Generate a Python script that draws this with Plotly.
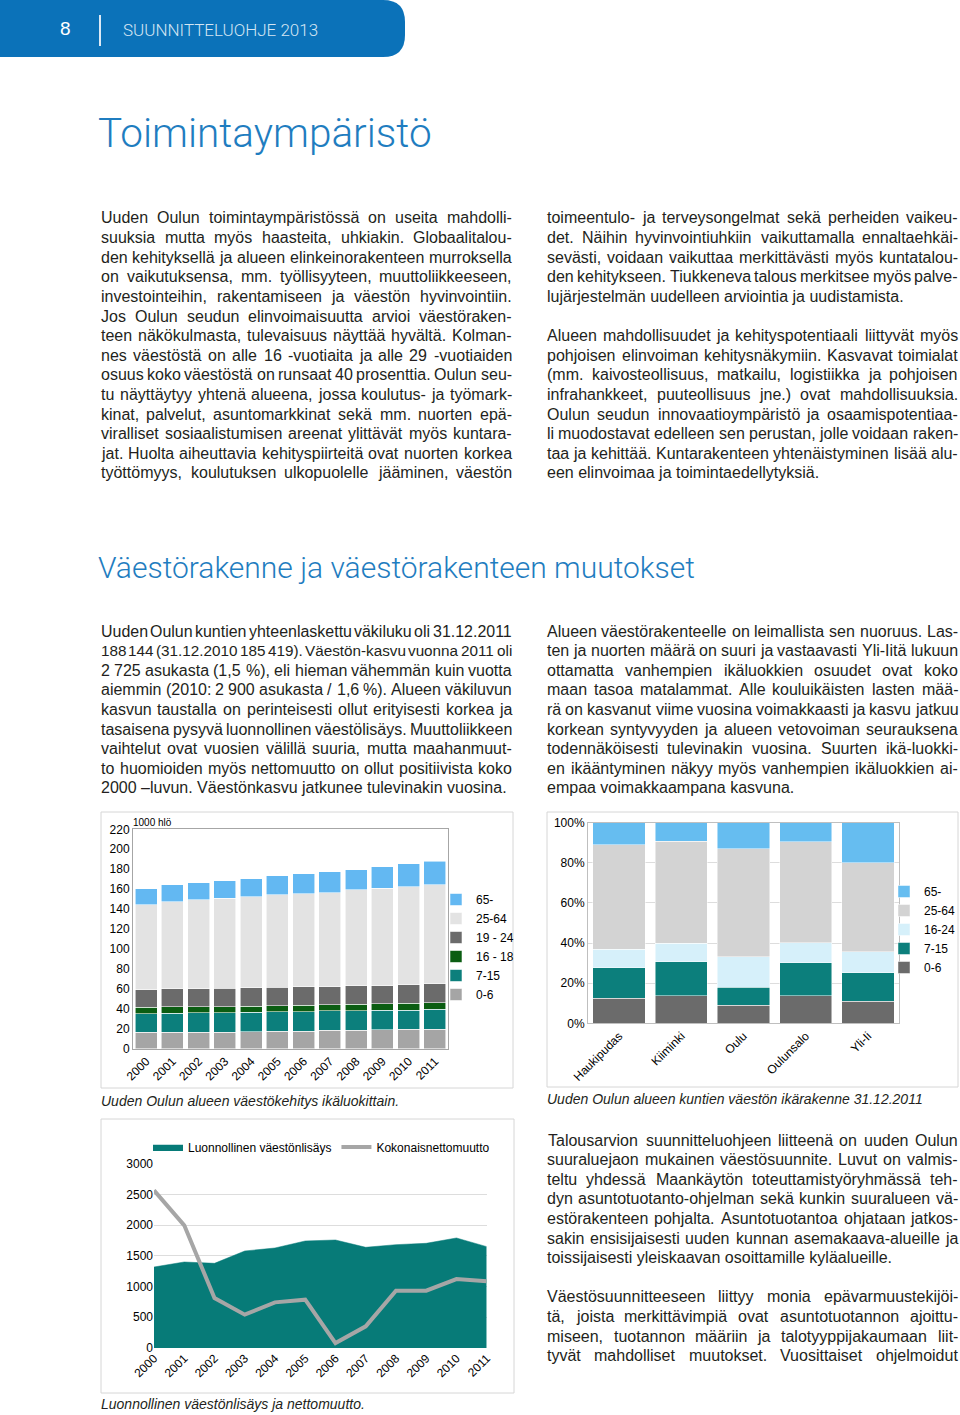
import plotly.graph_objects as go

# ---------------------------------------------------------------------
# Data
# ---------------------------------------------------------------------
years = ["2000", "2001", "2002", "2003", "2004", "2005",
         "2006", "2007", "2008", "2009", "2010", "2011"]

# Chart 1: population by age group, 1000 persons
age_groups = ["0-6", "7-15", "16 - 18", "19 - 24", "25-64", "65-"]
pop_0_6 = [16.7, 16.7, 16.7, 16.7, 17.1, 17.7, 17.7, 18.4, 18.7, 19.1, 19.4, 19.7]
pop_7_15 = [18.1, 18.8, 19.1, 19.4, 19.4, 19.1, 19.4, 19.4, 19.4, 19.4, 19.4, 19.8]
pop_16_18 = [6.7, 6.6, 6.3, 6.0, 6.3, 6.3, 6.7, 6.3, 6.7, 6.7, 7.0, 6.7]
pop_19_24 = [17.4, 17.8, 17.8, 18.4, 18.4, 18.4, 18.1, 18.1, 18.1, 18.0, 18.4, 18.7]
pop_25_64 = [85.6, 87.3, 89.3, 90.3, 91.3, 93.0, 93.6, 94.3, 96.3, 97.7, 98.0, 99.6]
pop_65 = [16.0, 17.0, 17.0, 17.8, 18.1, 18.7, 19.8, 20.8, 20.4, 21.4, 23.1, 23.6]
y1_ticks = [0, 20, 40, 60, 80, 100, 120, 140, 160, 180, 200, 220]

# Chart 2: age structure by municipality 31.12.2011, %
municipalities = ["Haukipudas", "Kiiminki", "Oulu", "Oulunsalo", "Yli-Ii"]
share_groups = ["0-6", "7-15", "16-24", "25-64", "65-"]
share_0_6 = [12.5, 13.8, 9.1, 13.8, 11.0]
share_7_15 = [15.2, 16.9, 8.8, 16.3, 14.2]
share_16_24 = [9.2, 9.2, 15.2, 10.1, 10.5]
share_25_64 = [52.0, 50.8, 53.8, 50.2, 44.4]
share_65 = [11.1, 9.3, 13.1, 9.6, 19.9]
y2_ticks = [0, 20, 40, 60, 80, 100]
y2_labels = ["0%", "20%", "40%", "60%", "80%", "100%"]

# Chart 3: natural increase and net migration
year_nums = [2000, 2001, 2002, 2003, 2004, 2005, 2006, 2007, 2008, 2009, 2010, 2011]
natural_increase = [1318, 1400, 1378, 1579, 1628, 1742, 1758, 1639, 1682, 1704, 1791, 1650]
net_migration = [2566, 1997, 814, 543, 743, 787, 81, 353, 933, 933, 1123, 1085]
y3_ticks = [0, 500, 1000, 1500, 2000, 2500, 3000]

# Page text
col1_top = [
    "Uuden Oulun toimintaympäristössä on useita mahdolli-",
    "suuksia mutta myös haasteita, uhkiakin. Globaalitalou-",
    "den kehityksellä ja alueen elinkeinorakenteen murroksella",
    "on vaikutuksensa, mm. työllisyyteen, muuttoliikkeeseen,",
    "investointeihin, rakentamiseen ja väestön hyvinvointiin.",
    "Jos Oulun seudun elinvoimaisuutta arvioi väestöraken-",
    "teen näkökulmasta, tulevaisuus näyttää hyvältä. Kolman-",
    "nes väestöstä on alle 16 -vuotiaita ja alle 29 -vuotiaiden",
    "osuus koko väestöstä on runsaat 40 prosenttia. Oulun seu-",
    "tu näyttäytyy yhtenä alueena, jossa koulutus- ja työmark-",
    "kinat, palvelut, asuntomarkkinat sekä mm. nuorten epä-",
    "viralliset sosiaalistumisen areenat ylittävät myös kuntara-",
    "jat. Huolta aiheuttavia kehityspiirteitä ovat nuorten korkea",
    "työttömyys, koulutuksen ulkopuolelle jääminen, väestön",
]
col2_top = [
    "toimeentulo- ja terveysongelmat sekä perheiden vaikeu-",
    "det. Näihin hyvinvointiuhkiin vaikuttamalla ennaltaehkäi-",
    "sevästi, voidaan vaikuttaa merkittävästi myös kuntatalou-",
    "den kehitykseen. Tiukkeneva talous merkitsee myös palve-",
    "lujärjestelmän uudelleen arviointia ja uudistamista.",
    "",
    "Alueen mahdollisuudet ja kehityspotentiaali liittyvät myös",
    "pohjoisen elinvoiman kehitysnäkymiin. Kasvavat toimialat",
    "(mm. kaivosteollisuus, matkailu, logistiikka ja pohjoisen",
    "infrahankkeet, puuteollisuus jne.) ovat mahdollisuuksia.",
    "Oulun seudun innovaatioympäristö ja osaamispotentiaa-",
    "li muodostavat edelleen sen perustan, jolle voidaan raken-",
    "taa ja kehittää. Kuntarakenteen yhtenäistyminen lisää alu-",
    "een elinvoimaa ja toimintaedellytyksiä.",
]
col1_mid = [
    "Uuden Oulun kuntien yhteenlaskettu väkiluku oli 31.12.2011",
    "188 144 (31.12.2010 185 419). Väestön-kasvu vuonna 2011 oli",
    "2 725 asukasta (1,5 %), eli hieman vähemmän kuin vuotta",
    "aiemmin (2010: 2 900 asukasta / 1,6 %). Alueen väkiluvun",
    "kasvun taustalla on perinteisesti ollut erityisesti korkea ja",
    "tasaisena pysyvä luonnollinen väestölisäys. Muuttoliikkeen",
    "vaihtelut ovat vuosien välillä suuria, mutta maahanmuut-",
    "to huomioiden myös nettomuutto on ollut positiivista koko",
    "2000 –luvun. Väestönkasvu jatkunee tulevinakin vuosina.",
]
col2_mid = [
    "Alueen väestörakenteelle on leimallista sen nuoruus. Las-",
    "ten ja nuorten määrä on suuri ja vastaavasti Yli-Iitä lukuun",
    "ottamatta vanhempien ikäluokkien osuudet ovat koko",
    "maan tasoa matalammat. Alle kouluikäisten lasten mää-",
    "rä on kasvanut viime vuosina voimakkaasti ja kasvu jatkuu",
    "korkean syntyvyyden ja alueen vetovoiman seurauksena",
    "todennäköisesti tulevinakin vuosina. Suurten ikä-luokki-",
    "en ikääntyminen näkyy myös vanhempien ikäluokkien ai-",
    "empaa voimakkaampana kasvuna.",
]
col2_bottom = [
    "Talousarvion suunnitteluohjeen liitteenä on uuden Oulun",
    "suuraluejaon mukainen väestösuunnite. Luvut on valmis-",
    "teltu yhdessä Maankäytön toteuttamistyöryhmässä teh-",
    "dyn asuntotuotanto-ohjelman sekä kunkin suuralueen vä-",
    "estörakenteen pohjalta. Asuntotuotantoa ohjataan jatkos-",
    "sakin ensisijaisesti uuden kunnan asemakaava-alueille ja",
    "toissijaisesti yleiskaavan osoittamille kyläalueille.",
    "",
    "Väestösuunnitteeseen liittyy monia epävarmuustekijöi-",
    "tä, joista merkittävimpiä ovat asuntotuotannon ajoittu-",
    "miseen, tuotannon määriin ja talotyyppijakaumaan liit-",
    "tyvät mahdolliset muutokset. Vuosittaiset ohjelmoidut",
]

# ---------------------------------------------------------------------
# Helpers (page pixels -> paper coords)
# ---------------------------------------------------------------------
W, H = 960, 1415
BODY = "Liberation Sans, Arial, sans-serif"
LIGHT = "Roboto, Lato, sans-serif"
TEXT = "#231f20"
BLUE = "#0b72b9"
BODY_SIZE = 16
MIN_GAP = 2.2
LINE_STEP = 19.6

# Arial / Liberation Sans advance widths (1/1000 em), used to justify lines
_W = {" ": 278, ".": 278, ",": 278, ":": 278, "/": 278, "-": 333, "(": 333,
      ")": 333, "%": 889, "–": 556, "I": 278, "J": 500, "L": 556, "F": 611,
      "T": 611, "Z": 611, "C": 722, "D": 722, "H": 722, "N": 722, "R": 722,
      "U": 722, "G": 778, "O": 778, "Q": 778, "Ö": 778, "M": 833, "W": 944,
      "f": 278, "t": 278, "i": 222, "j": 222, "l": 222, "r": 333, "c": 500,
      "k": 500, "s": 500, "v": 500, "x": 500, "y": 500, "z": 500, "m": 833,
      "w": 722}
for _c in "ABEKPSVXYÄ":
    _W[_c] = 667


def text_em(s):
    return sum(_W.get(c, 556) for c in s) / 1000


def px(x):
    return x / W


def py(y):
    return 1 - y / H


def dom_x(a, b):
    return [px(a), px(b)]


def dom_y(top, bottom):
    return [py(bottom), py(top)]


annotations = []


def add_text(x, y, text, size=BODY_SIZE, color=TEXT, family=BODY,
             italic=False, weight=None, xanchor="left"):
    font = dict(family=family, size=size, color=color)
    if italic:
        font["style"] = "italic"
    if weight:
        font["weight"] = weight
    annotations.append(dict(
        x=px(x), y=py(y), xref="paper", yref="paper", text=text,
        showarrow=False, xanchor=xanchor, yanchor="middle", font=font,
        borderpad=0, borderwidth=0,
    ))


def add_block(x0, x1, y0, lines, continues=False):
    """Justified text block: last line of each paragraph stays ragged."""
    for i, line in enumerate(lines):
        if not line:
            continue
        y = y0 + i * LINE_STEP
        is_last = i == len(lines) - 1
        ragged = (is_last and not continues) or (not is_last and not lines[i + 1])
        words = line.split(" ")
        if ragged or len(words) < 2:
            add_text(x0, y, line)
            continue
        n_gaps = len(words) - 1
        em = sum(text_em(w) for w in words)
        size = min(BODY_SIZE, (x1 - x0 - n_gaps * MIN_GAP) / em)
        widths = [text_em(w) * size for w in words]
        gap = (x1 - x0 - sum(widths)) / n_gaps
        x = x0
        for w, ww in zip(words, widths):
            add_text(x + ww / 2, y, w, size=size, xanchor="center")
            x += ww + gap


fig = go.Figure()

# ---------------------------------------------------------------------
# Chart 1: stacked bars by age group
# ---------------------------------------------------------------------
c1_series = [pop_0_6, pop_7_15, pop_16_18, pop_19_24, pop_25_64, pop_65]
c1_colors = ["#a5a5a5", "#0c7f7c", "#0b5d12", "#6b6b6b", "#e3e3e3", "#63b8f2"]
for name, vals, col in zip(age_groups, c1_series, c1_colors):
    fig.add_trace(go.Bar(
        x=years, y=vals, name=name, marker_color=col,
        marker_line=dict(color="rgba(255,255,255,0.7)", width=0.8),
        xaxis="x", yaxis="y", legend="legend",
    ))

# ---------------------------------------------------------------------
# Chart 2: 100% stacked bars by municipality
# ---------------------------------------------------------------------
c2_series = [share_0_6, share_7_15, share_16_24, share_25_64, share_65]
c2_colors = ["#6b6b6b", "#0c7f7c", "#d6f0fa", "#d3d3d3", "#66bdf0"]
for name, vals, col in zip(share_groups, c2_series, c2_colors):
    fig.add_trace(go.Bar(
        x=municipalities, y=vals, name=name, marker_color=col,
        marker_line=dict(color="rgba(255,255,255,0.6)", width=0.8),
        xaxis="x2", yaxis="y2", legend="legend2",
    ))

# ---------------------------------------------------------------------
# Chart 3: area + line
# ---------------------------------------------------------------------
fig.add_trace(go.Scatter(
    x=year_nums, y=natural_increase, name="Luonnollinen väestönlisäys",
    mode="lines", fill="tozeroy", fillcolor="#077b78",
    line=dict(color="#077b78", width=0.5),
    xaxis="x3", yaxis="y3", legend="legend3",
))
fig.add_trace(go.Scatter(
    x=year_nums, y=net_migration, name="Kokonaisnettomuutto",
    mode="lines", line=dict(color="#a6a6a6", width=4),
    xaxis="x3", yaxis="y3", legend="legend3",
))

tick_font = dict(family=BODY, size=12, color="#000000")
legend_font = dict(family=BODY, size=12, color="#000000")

# ---------------------------------------------------------------------
# Page decorations
# ---------------------------------------------------------------------
r = 22
hx0, hx1, hy0, hy1 = 0, 405, 0, 57
header_path = (
    f"M {px(hx0)} {py(hy0)} L {px(hx1 - r)} {py(hy0)} "
    f"Q {px(hx1)} {py(hy0)} {px(hx1)} {py(hy0 + r)} "
    f"L {px(hx1)} {py(hy1 - r)} "
    f"Q {px(hx1)} {py(hy1)} {px(hx1 - r)} {py(hy1)} "
    f"L {px(hx0)} {py(hy1)} Z"
)
shapes = [
    dict(type="path", path=header_path, xref="paper", yref="paper",
         fillcolor=BLUE, line=dict(width=0), layer="below"),
    dict(type="line", xref="paper", yref="paper", x0=px(100), x1=px(100),
         y0=py(15), y1=py(46), line=dict(color="#dce9f5", width=2)),
    # chart frames
    dict(type="rect", xref="paper", yref="paper", x0=px(101), x1=px(513),
         y0=py(1088), y1=py(812), line=dict(color="#d6d6d6", width=1)),
    dict(type="rect", xref="paper", yref="paper", x0=px(547), x1=px(958),
         y0=py(1087), y1=py(812), line=dict(color="#d6d6d6", width=1)),
    dict(type="rect", xref="paper", yref="paper", x0=px(101), x1=px(514),
         y0=py(1393), y1=py(1119), line=dict(color="#d6d6d6", width=1)),
]

add_text(65, 29, "8", size=19, color="#ffffff", xanchor="center")
add_text(123, 30, "SUUNNITTELUOHJE 2013", size=17, color="#d4e5f3",
         family=LIGHT, weight=300)
add_text(98, 133, "Toimintaympäristö", size=40.5, color="#1f7dc0",
         family=LIGHT, weight=300)
add_text(98, 567, "Väestörakenne ja väestörakenteen muutokset", size=30,
         color="#1f7dc0", family=LIGHT, weight=300)

add_block(101, 512, 218, col1_top, continues=True)
add_block(547, 958, 218, col2_top)
add_block(101, 512, 631, col1_mid)
add_block(547, 958, 631, col2_mid)
add_block(547, 958, 1140, col2_bottom, continues=True)

add_text(133, 822, "1000 hlö", size=10, color="#000000")
add_text(101, 1101, "Uuden Oulun alueen väestökehitys ikäluokittain.",
         size=14, italic=True)
add_text(547, 1099, "Uuden Oulun alueen kuntien väestön ikärakenne 31.12.2011",
         size=14, italic=True)
add_text(101, 1404, "Luonnollinen väestönlisäys ja nettomuutto.",
         size=14, italic=True)

fig.update_layout(
    width=W, height=H, autosize=False,
    margin=dict(l=0, r=0, t=0, b=0, pad=0, autoexpand=False),
    paper_bgcolor="#ffffff", plot_bgcolor="rgba(0,0,0,0)",
    barmode="stack",
    font=dict(family=BODY, color="#000000"),
    shapes=shapes, annotations=annotations,
    xaxis=dict(domain=dom_x(133, 448), anchor="y", tickangle=-45,
               tickfont=tick_font, showline=True, linecolor="#a6a6a6",
               mirror=True, ticks=""),
    yaxis=dict(domain=dom_y(829.3, 1048.7), anchor="x", range=[0, 220],
               tickvals=y1_ticks, tickfont=tick_font, showgrid=False,
               showline=True, linecolor="#a6a6a6", mirror=True, ticks="",
               zeroline=False),
    xaxis2=dict(domain=dom_x(588, 899), anchor="y2", tickangle=-45,
                tickfont=tick_font, showline=True, linecolor="#bfbfbf",
                mirror=True, ticks=""),
    yaxis2=dict(domain=dom_y(822.7, 1023.3), anchor="x2", range=[0, 100],
                tickvals=y2_ticks, ticktext=y2_labels, tickfont=tick_font,
                showgrid=True, gridcolor="#dddddd", showline=True,
                linecolor="#bfbfbf", mirror=True, ticks="", zeroline=False),
    xaxis3=dict(domain=dom_x(154, 486.7), anchor="y3", range=[2000, 2011],
                tickvals=year_nums, ticktext=years, tickangle=-45,
                tickfont=tick_font, showgrid=False, showline=False,
                ticks="", zeroline=False),
    yaxis3=dict(domain=dom_y(1163.7, 1348), anchor="x3", range=[0, 3000],
                tickvals=y3_ticks, tickfont=tick_font, showgrid=True,
                gridcolor="#dddddd", showline=False, ticks="",
                zeroline=False),
    bargap=0.16,
    legend=dict(x=px(436), y=py(885), xanchor="left", yanchor="top",
                traceorder="reversed", font=legend_font,
                bgcolor="rgba(0,0,0,0)", tracegroupgap=0),
    legend2=dict(x=px(884), y=py(877), xanchor="left", yanchor="top",
                 traceorder="reversed", font=legend_font,
                 bgcolor="rgba(0,0,0,0)", tracegroupgap=0),
    legend3=dict(x=px(148), y=py(1147), xanchor="left", yanchor="middle",
                 orientation="h", font=legend_font,
                 bgcolor="rgba(0,0,0,0)"),
)

fig.write_html("out.html", config={"displayModeBar": False},
               post_script="document.body.style.margin='0';")
